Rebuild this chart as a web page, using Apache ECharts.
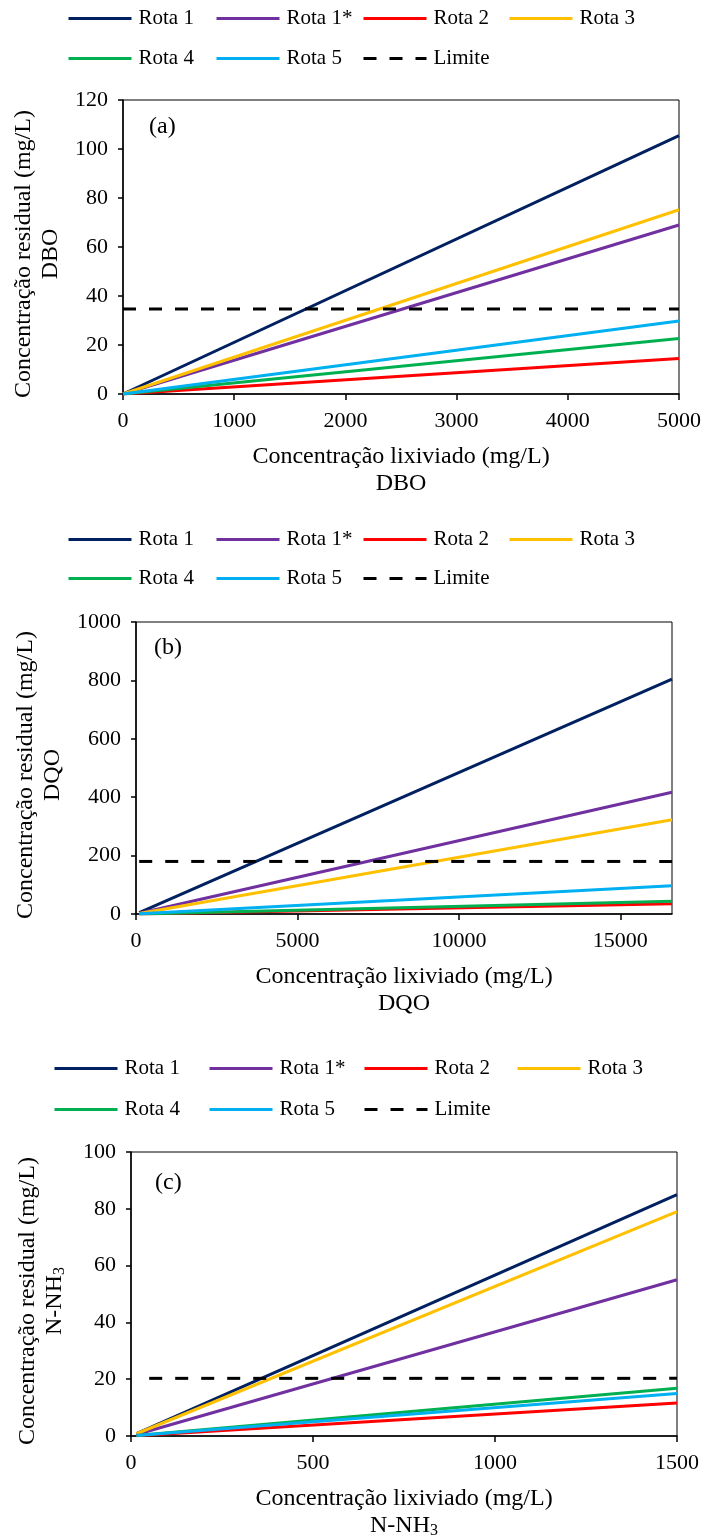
<!DOCTYPE html>
<html>
<head>
<meta charset="utf-8">
<script src="https://cdn.jsdelivr.net/npm/echarts@6/dist/echarts.min.js"></script>
<style>
html,body{margin:0;padding:0;background:#fff;}
#c{width:704px;height:1540px;}
</style>
</head>
<body>
<div id="c"></div>
<script>
// ---------- DATA ----------
const seriesNames = ['Rota 1', 'Rota 1*', 'Rota 2', 'Rota 3', 'Rota 4', 'Rota 5', 'Limite'];
const seriesColors = ['#002060', '#7030A0', '#FF0000', '#FFC000', '#00B050', '#00B0F0', '#000000'];

// (a) DBO
const dboXStart = [0, 0, 0, 0, 0, 0, 0];
const dboXEnd   = [5000, 5000, 5000, 5000, 5000, 5000, 5000];
const dboYStart = [0, 0, 0, 0, 0, 0, 34.7];
const dboYEnd   = [105.5, 69, 14.5, 75.2, 22.7, 29.8, 34.7];

// (b) DQO
const dqoXStart = [100, 100, 100, 100, 100, 100, 100];
const dqoXEnd   = [16600, 16600, 16600, 16600, 16600, 16600, 16600];
const dqoYStart = [4.8, 2.5, 0.2, 1.9, 0.3, 0.6, 180];
const dqoYEnd   = [804, 417, 35, 323, 44, 97, 180];

// (c) N-NH3
const nh3XStart = [15, 15, 15, 15, 15, 15, 50];
const nh3XEnd   = [1500, 1500, 1500, 1500, 1500, 1500, 1500];
const nh3YStart = [0.85, 0.55, 0.12, 0.79, 0.17, 0.15, 20.3];
const nh3YEnd   = [85, 55, 11.6, 79, 16.8, 15, 20.3];

// axis ranges / ticks
const xMax = [5000, 16600, 1500];
const xInterval = [1000, 5000, 500];
const yMax = [120, 1000, 100];
const yInterval = [20, 200, 20];
const panelLabels = ['(a)', '(b)', '(c)'];
const xTitles = ['{t|Concentração lixiviado (mg/L)}\n{t|DBO}', '{t|Concentração lixiviado (mg/L)}\n{t|DQO}', '{t|Concentração lixiviado (mg/L)}\n{t|N-NH}{s|3}'];
const yTitles = ['{t|Concentração residual (mg/L)}\n{t|DBO}', '{t|Concentração residual (mg/L)}\n{t|DQO}', '{t|Concentração residual (mg/L)}\n{t|N-NH}{s|3}'];

// ---------- LAYOUT ----------
const FONT = '"Times New Roman", "Liberation Serif", serif';
const grids = [
  {left: 123, top: 100, width: 556, height: 294},
  {left: 136, top: 622, width: 536, height: 292},
  {left: 131, top: 1152, width: 546, height: 285}
];
const yNameGap = [55, 68, 63];
const legendRows = [[17, 57], [538, 577], [1067, 1108]];
const legendCols = [[67, 215, 362, 508], [67, 215, 362, 508], [53, 208, 363, 516]];
const panelPos = [[149, 115], [154, 636], [155, 1171]];

const datasets = [
  [dboXStart, dboXEnd, dboYStart, dboYEnd],
  [dqoXStart, dqoXEnd, dqoYStart, dqoYEnd],
  [nh3XStart, nh3XEnd, nh3YStart, nh3YEnd]
];

const richStyle = {
  t: {fontFamily: FONT, fontSize: 24, lineHeight: 27, color: '#000'},
  s: {fontFamily: FONT, fontSize: 16, lineHeight: 15, color: '#000', verticalAlign: 'bottom'}
};

const option = {
  animation: false,
  backgroundColor: '#fff',
  textStyle: {fontFamily: FONT},
  title: [],
  grid: [],
  xAxis: [],
  yAxis: [],
  legend: [],
  series: []
};

const plain = v => String(v);

for (let i = 0; i < 3; i++) {
  option.grid.push(Object.assign({show: true, borderColor: '#000', borderWidth: 1, containLabel: false}, grids[i]));
  option.title.push({
    text: panelLabels[i], left: panelPos[i][0], top: panelPos[i][1], padding: 0,
    textStyle: {fontFamily: FONT, fontSize: 24, fontWeight: 'normal', color: '#000'}
  });
  option.xAxis.push({
    type: 'value', gridIndex: i, min: 0, max: xMax[i], interval: xInterval[i],
    splitLine: {show: false},
    axisLine: {show: true, onZero: false, lineStyle: {color: '#000', width: 1.5}},
    axisTick: {show: true, inside: false, length: 6, lineStyle: {color: '#000', width: 1.5}},
    axisLabel: {color: '#000', fontFamily: FONT, fontSize: 22, margin: 16, showMaxLabel: i !== 1, formatter: plain},
    name: xTitles[i], nameLocation: 'middle', nameGap: 49,
    nameTextStyle: {fontFamily: FONT, fontSize: 24, lineHeight: 27, color: '#000', rich: richStyle}
  });
  option.yAxis.push({
    type: 'value', gridIndex: i, min: 0, max: yMax[i], interval: yInterval[i],
    splitLine: {show: false},
    axisLine: {show: true, onZero: false, lineStyle: {color: '#000', width: 1.5}},
    axisTick: {show: true, inside: false, length: 5, lineStyle: {color: '#000', width: 1.5}},
    axisLabel: {color: '#000', fontFamily: FONT, fontSize: 22, margin: 15, formatter: plain},
    name: yTitles[i], nameLocation: 'middle', nameGap: yNameGap[i], nameRotate: 90,
    nameTextStyle: {fontFamily: FONT, fontSize: 24, lineHeight: 27, color: '#000', rich: richStyle, padding: [0, 14, 0, 0]}
  });

  const d = datasets[i];
  for (let j = 0; j < seriesNames.length; j++) {
    option.series.push({
      type: 'line', name: seriesNames[j], xAxisIndex: i, yAxisIndex: i,
      data: [[d[0][j], d[2][j]], [d[1][j], d[3][j]]],
      symbol: 'none', silent: true, z: 2 + j,
      lineStyle: {color: seriesColors[j], width: 3, type: j === 6 ? [13, 13] : 'solid', cap: 'butt'},
      itemStyle: {color: seriesColors[j]}
    });
    const row = j < 4 ? 0 : 1;
    const col = j < 4 ? j : j - 4;
    option.legend.push({
      data: [seriesNames[j]], selectedMode: false,
      left: legendCols[i][col], top: legendRows[i][row] - 9, padding: 0,
      itemWidth: 63, itemHeight: 4, itemGap: 0,
      itemStyle: {opacity: 0},
      lineStyle: {width: 3},
      textStyle: {fontFamily: FONT, fontSize: 21, color: '#000', padding: [0, 0, 0, 2]}
    });
  }
}

const chart = echarts.init(document.getElementById('c'), null, {renderer: 'canvas'});
chart.setOption(option);
</script>
</body>
</html>
